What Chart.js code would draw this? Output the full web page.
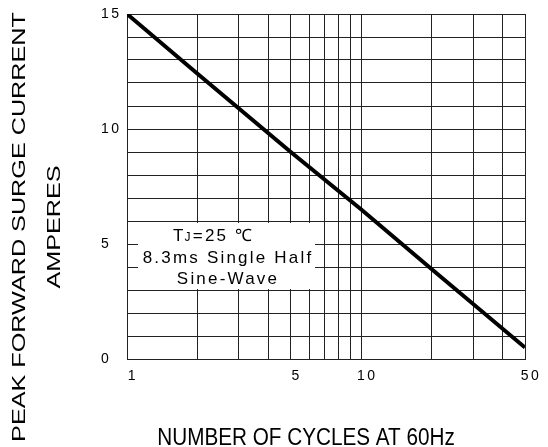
<!DOCTYPE html>
<html>
<head>
<meta charset="utf-8">
<script src="https://cdn.jsdelivr.net/npm/chart.js@4/dist/chart.umd.min.js"></script>
<style>
  html, body { margin: 0; padding: 0; background: #fff; }
  canvas { display: block; }
</style>
</head>
<body>
<canvas id="surgeChart" width="548" height="447"></canvas>
<script>
// values
const cycles = [1, 2, 5, 10, 20, 50];
const surgeAmps = [15, 12.4, 9.0, 6.5, 3.9, 0.5];
const gridCycles = [1, 2, 3, 4, 5, 6, 7, 8, 9, 10, 20, 30, 40, 50];
const cycleLabels = [1, 5, 10, 50];
const ampLabels = [0, 5, 10, 15];

const FONT = "'Liberation Sans', Arial, sans-serif";

// letter spacing for tick labels (canvas state is reset on resize, so set it each pass)
const spacingPlugin = {
    id: 'spacing',
    beforeUpdate(chart) { chart.ctx.letterSpacing = '2.5px'; },
    beforeDraw(chart) { chart.ctx.letterSpacing = '2.5px'; }
};

// note box and axis titles
const textPlugin = {
    id: 'texts',
    beforeDatasetsDraw(chart) {
        const ctx = chart.ctx;
        const a = chart.chartArea;
        ctx.save();
        ctx.fillStyle = '#fff';
        ctx.fillRect(a.left + 11, a.top + 209, 177, 66);
        ctx.fillStyle = '#000';
        ctx.letterSpacing = '2.2px';
        ctx.textBaseline = 'alphabetic';
        ctx.textAlign = 'left';
        let x = a.left + 46;
        const y1 = a.top + 227;
        ctx.font = '17px ' + FONT;
        ctx.fillText('T', x, y1);
        x += ctx.measureText('T').width - 1;
        ctx.font = '12px ' + FONT;
        ctx.fillText('J', x, y1);
        x += ctx.measureText('J').width;
        ctx.font = '17px ' + FONT;
        ctx.fillText('=25 \u2103', x, y1);
        ctx.textAlign = 'center';
        ctx.fillText('8.3ms Single Half', a.left + 101, a.top + 249);
        ctx.fillText('Sine-Wave', a.left + 101, a.top + 270);
        ctx.restore();
    },
    afterDraw(chart) {
        const ctx = chart.ctx;
        ctx.save();
        ctx.letterSpacing = '0px';
        ctx.fillStyle = '#000';
        ctx.textAlign = 'center';
        ctx.textBaseline = 'alphabetic';
        ctx.font = '18px ' + FONT;
        const yTitle = [['PEAK FORWARD SURGE CURRENT', 25], ['AMPERES', 60]];
        yTitle.forEach(function (t) {
            ctx.save();
            ctx.translate(t[1], 227);
            ctx.rotate(-Math.PI / 2);
            ctx.scale(1.4, 1);
            ctx.fillText(t[0], 0, 0);
            ctx.restore();
        });
        ctx.font = '23px ' + FONT;
        ctx.translate(306, 445);
        ctx.scale(0.9, 1);
        ctx.fillText('NUMBER OF CYCLES AT 60Hz', 0, 0);
        ctx.restore();
    }
};

new Chart(document.getElementById('surgeChart').getContext('2d'), {
    type: 'line',
    data: {
        datasets: [{
            data: cycles.map((c, i) => ({ x: c, y: surgeAmps[i] })),
            borderColor: '#000',
            borderWidth: 4,
            pointRadius: 0,
            tension: 0,
            fill: false
        }]
    },
    options: {
        responsive: false,
        animation: false,
        layout: { padding: { left: 101, top: 14, right: 23, bottom: 0 } },
        plugins: { legend: { display: false }, tooltip: { enabled: false } },
        scales: {
            x: {
                type: 'logarithmic',
                min: 1,
                max: 50,
                afterBuildTicks: function (scale) {
                    scale.ticks = gridCycles.map(v => ({ value: v }));
                },
                afterFit: function (scale) { scale.height = 88; },
                grid: { color: '#222', lineWidth: 1, drawTicks: false },
                border: { color: '#222', width: 1 },
                ticks: {
                    autoSkip: false,
                    maxRotation: 0,
                    padding: 9,
                    labelOffset: 6,
                    color: '#000',
                    font: { family: FONT, size: 14 },
                    callback: function (v) { return cycleLabels.includes(v) ? String(v) : ''; }
                }
            },
            y: {
                min: 0,
                max: 15,
                afterFit: function (scale) { scale.width = 26; },
                grid: { color: '#222', lineWidth: 1, drawTicks: false },
                border: { color: '#222', width: 1 },
                ticks: {
                    stepSize: 1,
                    autoSkip: false,
                    crossAlign: 'far',
                    padding: 0,
                    color: '#000',
                    font: { family: FONT, size: 14 },
                    callback: function (v) { return ampLabels.includes(v) ? String(v) : ''; }
                }
            }
        }
    },
    plugins: [spacingPlugin, textPlugin]
});
</script>
</body>
</html>
